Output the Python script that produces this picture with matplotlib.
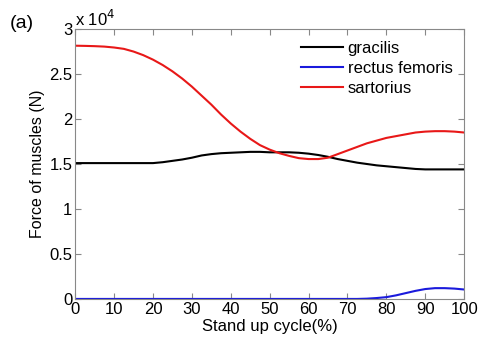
import numpy as np
import matplotlib.pyplot as plt

plt.rcParams['font.family'] = ['Liberation Sans', 'DejaVu Sans']

# stand up cycle (%), every 2.5 %
cycle = np.arange(0, 100.1, 2.5)

# muscle forces (x 10^4 N)
gracilis = [1.51, 1.51, 1.51, 1.51, 1.51, 1.51, 1.51, 1.51, 1.51, 1.52, 1.535, 1.55, 1.57, 1.595,
            1.61, 1.62, 1.625, 1.63, 1.635, 1.635, 1.63, 1.63, 1.63, 1.625, 1.615, 1.60, 1.58,
            1.555, 1.535, 1.515, 1.50, 1.485, 1.475, 1.465, 1.455, 1.445, 1.44, 1.44, 1.44, 1.44, 1.44]
rectus_femoris = [0, 0, 0, 0, 0, 0, 0, 0, 0, 0, 0, 0, 0, 0,
                  0, 0, 0, 0, 0, 0, 0, 0, 0, 0, 0, 0, 0,
                  0, 0, 0, 0.003, 0.01, 0.02, 0.04, 0.065, 0.09, 0.11, 0.12, 0.12, 0.115, 0.105]
sartorius = [2.815, 2.813, 2.81, 2.805, 2.795, 2.78, 2.75, 2.71, 2.66, 2.60, 2.53, 2.45, 2.36, 2.26,
             2.16, 2.05, 1.95, 1.86, 1.78, 1.71, 1.66, 1.62, 1.59, 1.565, 1.555, 1.555, 1.57,
             1.61, 1.65, 1.69, 1.73, 1.76, 1.79, 1.81, 1.83, 1.85, 1.86, 1.865, 1.865, 1.86, 1.85]

scale = 1e4

fig = plt.figure(figsize=(4.79, 3.46), dpi=100)
ax = fig.add_axes([0.157, 0.136, 0.812, 0.78])

ax.plot(cycle, np.array(gracilis) * scale, color='black', lw=1.5, label='gracilis')
ax.plot(cycle, np.array(rectus_femoris) * scale, color='#1a1adc', lw=1.5, label='rectus femoris')
ax.plot(cycle, np.array(sartorius) * scale, color='#e81818', lw=1.5, label='sartorius')

ax.set_xlim(0, 100)
ax.set_ylim(0, 30000)
ax.set_xticks(range(0, 101, 10))
ax.set_yticks(np.arange(0, 30001, 5000))
ax.set_yticklabels(['0', '0.5', '1', '1.5', '2', '2.5', '3'])
ax.tick_params(direction='in', top=True, right=True, labelsize=12, length=4, color='#888888', pad=2)
for s in ax.spines.values():
    s.set_color('#888888')

ax.text(0.0, 1.0, r'x 10$^4$', transform=ax.transAxes, fontsize=12, ha='left', va='bottom')
fig.text(0.02, 0.92, '(a)', fontsize=14)

ax.set_xlabel('Stand up cycle(%)', fontsize=12, labelpad=2)
ax.set_ylabel('Force of muscles (N)', fontsize=11.5, labelpad=3)

ax.legend(loc='upper right', frameon=False, fontsize=12, handlelength=2.5,
          handletextpad=0.3, labelspacing=0.3, borderaxespad=0.3, bbox_to_anchor=(1.0, 1.0))

fig.savefig('out.png', dpi=100)
